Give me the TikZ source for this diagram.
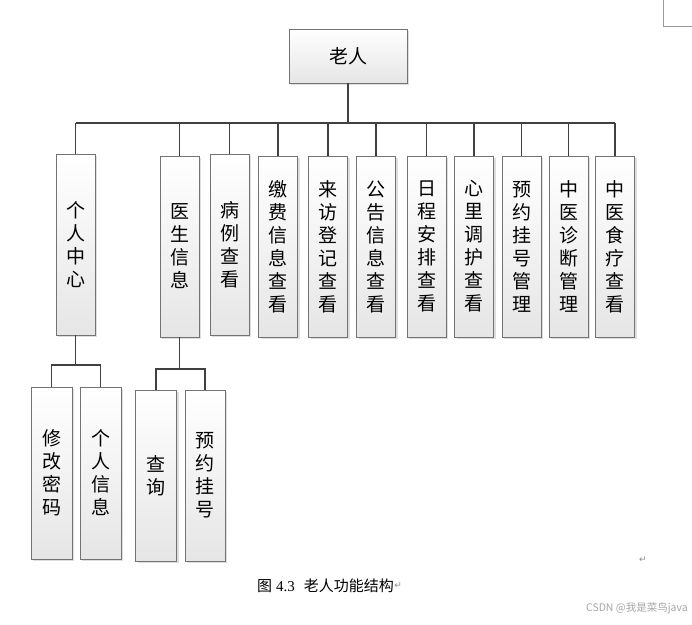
\documentclass[tikz,border=0pt]{standalone}
\usepackage{fontspec}
\setmainfont{Liberation Serif}
\newfontfamily\cjk{Noto Sans CJK SC}
\newfontfamily\symf{DejaVu Sans}
\usetikzlibrary{shadows}
\begin{document}
\begin{tikzpicture}[x=1pt,y=-1pt,
  box/.style={draw=black!55, line width=0.8pt, top color=white, bottom color=black!10,
    inner sep=0pt, align=center, font=\cjk\fontsize{19}{23}\selectfont,
    drop shadow={shadow xshift=2pt, shadow yshift=-2pt, fill=black!25, opacity=0.5}},
  lvtwo/.style={box, minimum width=39pt, minimum height=181pt},
  lvthree/.style={box, minimum width=41pt, minimum height=172pt},
  link/.style={draw=black!75, line width=1.2pt},
  retmark/.style={text=black!45, font=\symf\fontsize{9}{9}\selectfont, inner sep=0pt}]
\useasboundingbox (0,0) rectangle (692,624);
\fill[white] (0,0) rectangle (692,624);
% page corner
\draw[black!40, line width=0.8pt] (663,0) -- (663,26) -- (692,26);

% top
\node[box, minimum width=118pt, minimum height=54pt, font=\cjk\fontsize{19}{23}\selectfont] (root) at (348,56) {老人};

% level two
\node[lvtwo] (c1) at (75.5,244.5) {个\\人\\中\\心};
\node[lvtwo] (c2) at (179.5,246.5) {医\\生\\信\\息};
\node[lvtwo] (c3) at (229.5,244.5) {病\\例\\查\\看};
\node[lvtwo] (c4) at (278,246.5) {缴\\费\\信\\息\\查\\看};
\node[lvtwo] (c5) at (328,246.5) {来\\访\\登\\记\\查\\看};
\node[lvtwo] (c6) at (376,246.5) {公\\告\\信\\息\\查\\看};
\node[lvtwo] (c7) at (426.5,246.5) {日\\程\\安\\排\\查\\看};
\node[lvtwo] (c8) at (474,246.5) {心\\里\\调\\护\\查\\看};
\node[lvtwo] (c9) at (521.5,246.5) {预\\约\\挂\\号\\管\\理};
\node[lvtwo] (c10) at (568.5,246.5) {中\\医\\诊\\断\\管\\理};
\node[lvtwo] (c11) at (615,246.5) {中\\医\\食\\疗\\查\\看};

% level three
\node[lvthree] (d1) at (51.5,473) {修\\改\\密\\码};
\node[lvthree] (d2) at (100.5,473) {个\\人\\信\\息};
\node[lvthree, minimum height=171pt] (e1) at (156,475.5) {查\\询};
\node[lvthree, minimum height=171pt, minimum width=40pt] (e2) at (205,475.5) {预\\约\\挂\\号};

% bus coordinates
\coordinate (busA) at (0,123);
\coordinate (busB) at (0,365);
\coordinate (busC) at (0,369);

\draw[link] (root.south) -- (root.south |- busA);
\draw[link] (c1.north |- busA) -- (c11.north |- busA);
\foreach \n in {c1,c2,c3,c4,c5,c6,c7,c8,c9,c10,c11}
  \draw[link] (\n.north |- busA) -- (\n.north);

\draw[link] (c1.south) -- (c1.south |- busB);
\draw[link] (d1.north) |- (c1.south |- busB) -| (d2.north);
\draw[link] (c2.south) -- (c2.south |- busC);
\draw[link] (e1.north) |- (c2.south |- busC) -| (e2.north);

% caption and marks
\node[anchor=west, inner sep=0pt] (cap) at (257,586)
  {\cjk\fontsize{15}{15}\selectfont 图\hspace{4pt}\fontspec{Liberation Serif}4.3\hspace{9pt}\cjk 老人功能结构};
\node[retmark, anchor=west] (ret1) at (cap.east) {↵};
\node[retmark] (ret2) at (643,560) {↵};
\node[anchor=east, inner sep=0pt, text=black!35, font=\cjk\fontsize{10.5}{11}\selectfont] (wm) at (688,608) {CSDN @我是菜鸟java};
\end{tikzpicture}
\end{document}
